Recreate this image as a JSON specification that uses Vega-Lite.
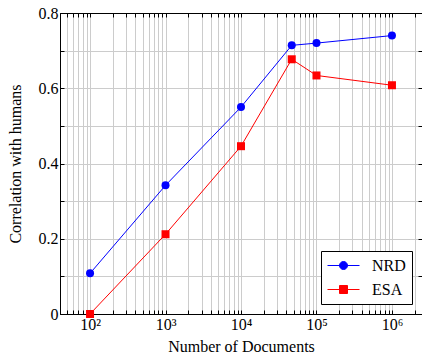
{
  "$schema": "https://vega.github.io/schema/vega-lite/v6.json",
  "width": 362,
  "height": 301,
  "autosize": "none",
  "padding": {"left": 60, "top": 13, "right": 0, "bottom": 46},
  "background": "white",
  "config": {
    "font": "Liberation Serif",
    "view": {"stroke": "black", "strokeWidth": 1},
    "legend": {"labelFont": "Liberation Serif"},
    "axis": {
      "labelFont": "Liberation Serif",
      "titleFont": "Liberation Serif",
      "domainColor": "black",
      "tickColor": "black",
      "labelColor": "black",
      "titleColor": "black",
      "labelFontSize": 16,
      "titleFontSize": 16,
      "titleFontWeight": "normal",
      "gridColor": "#cccccc",
      "gridOpacity": 1,
      "gridWidth": 1
    }
  },
  "data": {
    "values": [
      {"docs": 100, "corr": 0.108, "series": "NRD"},
      {"docs": 1000, "corr": 0.342, "series": "NRD"},
      {"docs": 10000, "corr": 0.55, "series": "NRD"},
      {"docs": 47000, "corr": 0.714, "series": "NRD"},
      {"docs": 100000, "corr": 0.72, "series": "NRD"},
      {"docs": 1000000, "corr": 0.74, "series": "NRD"},
      {"docs": 100, "corr": 0.0, "series": "ESA"},
      {"docs": 1000, "corr": 0.212, "series": "ESA"},
      {"docs": 10000, "corr": 0.446, "series": "ESA"},
      {"docs": 47000, "corr": 0.677, "series": "ESA"},
      {"docs": 100000, "corr": 0.634, "series": "ESA"},
      {"docs": 1000000, "corr": 0.608, "series": "ESA"}
    ]
  },
  "layer": [
    {
      "mark": {"type": "line", "strokeWidth": 1},
      "encoding": {
        "x": {
          "field": "docs", "type": "quantitative",
          "scale": {"type": "log", "domain": [40, 2500000], "nice": false},
          "axis": {
            "orient": "bottom",
            "title": "Number of Documents",
            "values": [40,50,60,70,80,90,100,200,300,400,500,600,700,800,900,1000,2000,3000,4000,5000,6000,7000,8000,9000,10000,20000,30000,40000,50000,60000,70000,80000,90000,100000,200000,300000,400000,500000,600000,700000,800000,900000,1000000,2000000],
            "labelExpr": "datum.value==100?'10²':datum.value==1000?'10³':datum.value==10000?'10⁴':datum.value==100000?'10⁵':datum.value==1000000?'10⁶':''",
            "grid": true,
            "tickSize": -4,
            "labelPadding": 6,
            "titlePadding": 6,
            "labelFlush": false,
            "labelOverlap": false
          }
        },
        "y": {
          "field": "corr", "type": "quantitative",
          "scale": {"domain": [0, 0.8], "nice": false, "zero": false},
          "axis": {
            "orient": "left",
            "title": "Correlation with humans",
            "values": [0,0.1,0.2,0.3,0.4,0.5,0.6,0.7,0.8],
            "labelExpr": "round(datum.value*10)%2==1?'':(datum.value==0?'0':format(datum.value,'.1f'))",
            "grid": true,
            "tickSize": -4,
            "labelPadding": 6,
            "titlePadding": 15,
            "labelFlush": false,
            "labelOverlap": false
          }
        },
        "color": {
          "field": "series", "type": "nominal",
          "scale": {"domain": ["NRD", "ESA"], "range": ["#0000ff", "#ff0000"]},
          "legend": {
            "title": null,
            "orient": "bottom-right",
            "offset": 10,
            "padding": 6,
            "strokeColor": "black",
            "fillColor": "white",
            "cornerRadius": 0,
            "symbolSize": 256,
            "symbolOffset": 8,
            "labelOffset": 20,
            "labelFont": "Liberation Serif",
            "labelFontSize": 16,
            "labelColor": "black",
            "rowPadding": 7,
            "encode": {
              "symbols": {
                "update": {
                  "shape": {"signal": "datum.value === 'NRD' ? 'M-2,0H2M0.5,0A0.5,0.5,0,1,1,-0.5,0A0.5,0.5,0,1,1,0.5,0Z' : 'M-2,0H2M-0.5,-0.5H0.5V0.5H-0.5Z'"},
                  "stroke": {"scale": "color", "field": "value"},
                  "fill": {"scale": "color", "field": "value"},
                  "strokeWidth": {"value": 1},
                  "opacity": {"value": 1},
                  "fillOpacity": {"value": 1},
                  "strokeOpacity": {"value": 1}
                }
              }
            }
          }
        },
        "detail": {"field": "series"}
      }
    },
    {
      "transform": [{"filter": "datum.series === 'NRD'"}],
      "mark": {"type": "point", "filled": true, "opacity": 1, "size": 64, "shape": "circle", "color": "#0000ff"},
      "encoding": {
        "x": {
          "field": "docs", "type": "quantitative",
          "axis": {
            "orient": "top",
            "title": null,
            "values": [40,50,60,70,80,90,100,200,300,400,500,600,700,800,900,1000,2000,3000,4000,5000,6000,7000,8000,9000,10000,20000,30000,40000,50000,60000,70000,80000,90000,100000,200000,300000,400000,500000,600000,700000,800000,900000,1000000,2000000],
            "labels": false,
            "grid": false,
            "tickSize": -4
          }
        },
        "y": {
          "field": "corr", "type": "quantitative",
          "axis": {
            "orient": "right",
            "title": null,
            "values": [0,0.1,0.2,0.3,0.4,0.5,0.6,0.7,0.8],
            "labels": false,
            "grid": false,
            "tickSize": -4
          }
        }
      }
    },
    {
      "transform": [{"filter": "datum.series === 'ESA'"}],
      "mark": {"type": "point", "filled": true, "opacity": 1, "size": 64, "shape": "square", "color": "#ff0000"},
      "encoding": {
        "x": {"field": "docs", "type": "quantitative", "axis": null},
        "y": {"field": "corr", "type": "quantitative", "axis": null}
      }
    }
  ]
}
